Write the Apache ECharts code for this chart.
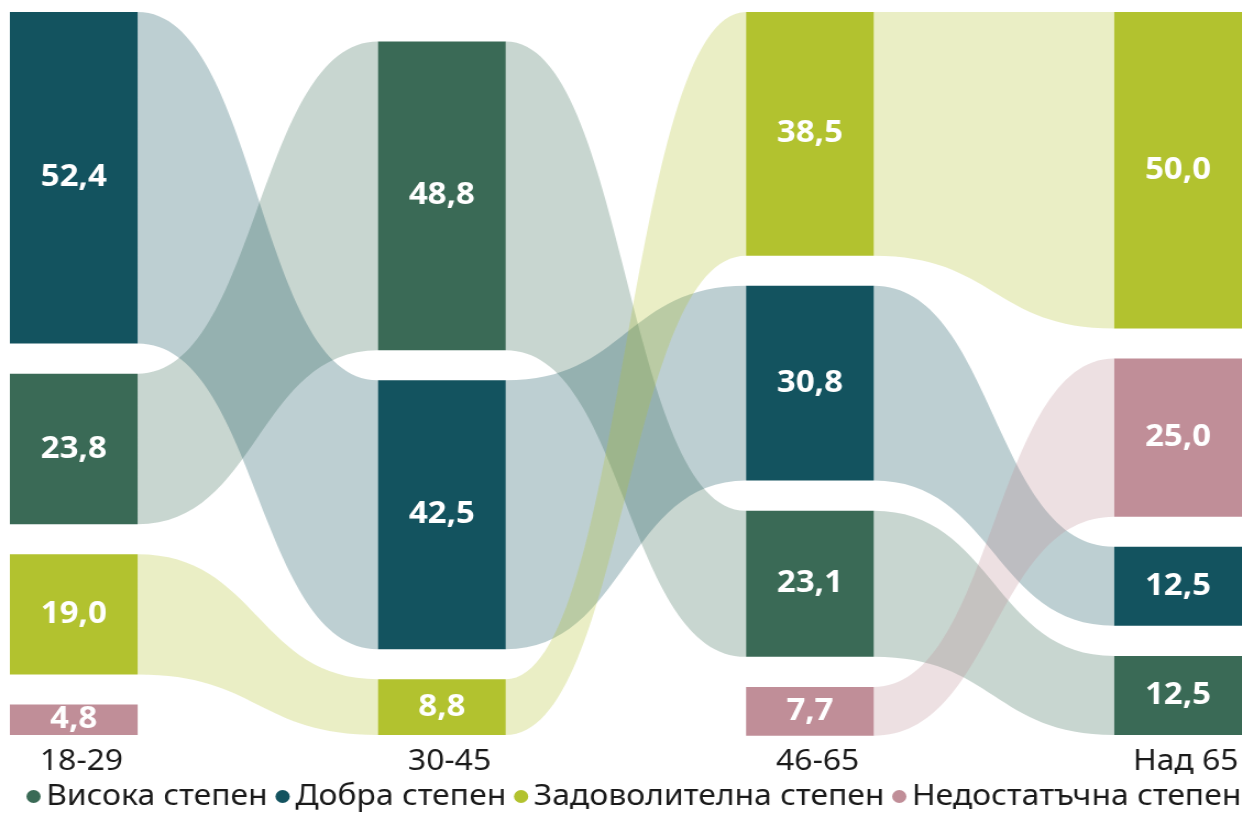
<!DOCTYPE html>
<html>
<head>
<meta charset="utf-8">
<script src="https://cdn.jsdelivr.net/npm/echarts@6/dist/echarts.min.js"></script>
<style>
  html, body { margin: 0; padding: 0; background: #fff; overflow: hidden; }
  /* the reference is a little stretched horizontally, so draw narrower and stretch */
  #main { width: 1129px; height: 828px; transform: scaleX(1.1); transform-origin: 0 0; }
</style>
</head>
<body>
<div id="main"></div>
<script>
// 数据
var groups = ['18-29', '30-45', '46-65', 'Над 65'];
var levels = ['Висока степен', 'Добра степен', 'Задоволителна степен', 'Недостатъчна степен'];
var visoka = [23.8, 48.8, 23.1, 12.5];
var dobra = [52.4, 42.5, 30.8, 12.5];
var zadovolitelna = [19.0, 8.8, 38.5, 50.0];
var nedostatachna = [4.8, null, 7.7, 25.0];

var colors = ['#3a6a56', '#13535f', '#b2c22f', '#c08e98'];
var font = '"Noto Sans", "Open Sans", sans-serif';

// 布局常量（单位 = 百分比）
var GAP = 4.75;
var NODE_W = 0.347;
var Y_MAX = 100 + 3 * GAP;

(function () {
    var myChart = echarts.init(document.getElementById('main'));
    var values = [visoka, dobra, zadovolitelna, nedostatachna];

    // 每一列按数值排序并堆叠，底部对齐
    var span = values.map(function () { return []; });
    var rank = [0, 1, 2, 3];
    groups.forEach(function (g, c) {
        var idx = [];
        values.forEach(function (v, i) { if (v[c] != null) idx.push(i); });
        idx.sort(function (a, b) {
            return (values[b][c] - values[a][c]) || (rank[a] - rank[b]);
        });
        var total = (idx.length - 1) * GAP;
        idx.forEach(function (i) { total += values[i][c]; });
        var y = Math.max(0, Y_MAX - total);
        idx.forEach(function (i, k) {
            span[i][c] = [y, y + values[i][c]];
            y += values[i][c] + GAP;
            rank[i] = k;
        });
    });

    function renderFlow(params, api) {
        var c = api.value(0);
        var y0 = api.value(1), y1 = api.value(2);
        var color = api.visual('color');
        var a = api.coord([c, y0]);
        var b = api.coord([c + NODE_W, y1]);
        var children = [];
        // 连线（到下一列同一类别）
        var n0 = api.value(4), n1 = api.value(5);
        if (n0 >= 0) {
            var s0 = api.coord([c + NODE_W, y0]);
            var s1 = api.coord([c + NODE_W, y1]);
            var t0 = api.coord([c + 1, n0]);
            var t1 = api.coord([c + 1, n1]);
            var mx = (s0[0] + t0[0]) / 2;
            var d = 'M' + s0[0] + ' ' + s0[1] +
                ' C' + mx + ' ' + s0[1] + ' ' + mx + ' ' + t0[1] + ' ' + t0[0] + ' ' + t0[1] +
                ' L' + t1[0] + ' ' + t1[1] +
                ' C' + mx + ' ' + t1[1] + ' ' + mx + ' ' + s1[1] + ' ' + s1[0] + ' ' + s1[1] + ' Z';
            children.push({
                type: 'path',
                shape: { pathData: d },
                style: { fill: color, opacity: 0.28 }
            });
        }
        children.push({
            type: 'rect',
            shape: { x: a[0], y: a[1], width: b[0] - a[0], height: b[1] - a[1] },
            style: { fill: color }
        });
        children.push({
            type: 'text',
            x: (a[0] + b[0]) / 2,
            y: (a[1] + b[1]) / 2,
            style: {
                text: api.value(3).toFixed(1).replace('.', ','),
                fill: '#fff',
                fontSize: 30,
                fontWeight: 'bold',
                fontFamily: font,
                align: 'center',
                verticalAlign: 'middle'
            }
        });
        return { type: 'group', children: children };
    }

    var series = levels.map(function (name, i) {
        var data = [];
        groups.forEach(function (g, c) {
            if (!span[i][c]) return;
            var next = span[i][c + 1];
            data.push([c, span[i][c][0], span[i][c][1], values[i][c],
                next ? next[0] : -1, next ? next[1] : -1]);
        });
        return {
            name: name,
            type: 'custom',
            renderItem: renderFlow,
            itemStyle: { color: colors[i] },
            encode: { x: 0, y: [1, 2] },
            data: data,
            silent: true
        };
    });

    // 列标签
    series.push({
        name: 'groups',
        type: 'custom',
        silent: true,
        data: groups.map(function (g, c) { return [c]; }),
        renderItem: function (params, api) {
            var c = api.value(0);
            var p = api.coord([c + NODE_W / 2, Y_MAX]);
            return {
                type: 'text',
                x: p[0] + 7,
                y: p[1] + 27,
                style: {
                    text: groups[c],
                    fill: '#1a1a1a',
                    fontSize: 29,
                    fontFamily: font,
                    align: 'center',
                    verticalAlign: 'middle'
                }
            };
        }
    });

    var option = {
        animation: false,
        color: colors,
        grid: { left: 9, right: 0, top: 12, bottom: 93 },
        xAxis: { type: 'value', min: 0, max: 3 + NODE_W, show: false },
        yAxis: { type: 'value', min: 0, max: Y_MAX, inverse: true, show: false },
        legend: {
            data: levels,
            left: 24,
            top: 782,
            width: 1120,
            padding: 0,
            icon: 'circle',
            itemWidth: 13,
            itemHeight: 13,
            itemGap: 7,
            textStyle: { fontSize: 29, color: '#1a1a1a', fontFamily: font }
        },
        series: series
    };
    myChart.setOption(option);
})();
</script>
</body>
</html>
